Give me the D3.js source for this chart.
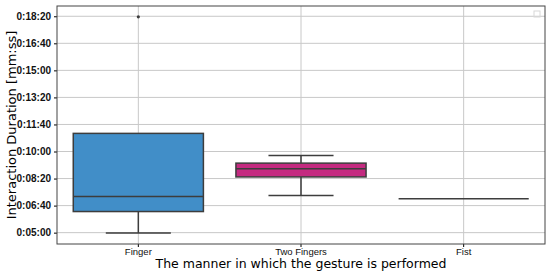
<!DOCTYPE html>
<html>
<head>
<meta charset="utf-8">
<script src="https://cdn.jsdelivr.net/npm/d3@7"></script>
<style>
  body { margin: 0; background: #fff; }
  svg { font-family: "DejaVu Sans", sans-serif; }
</style>
</head>
<body>
<div id="chart"></div>
<script>
// values in seconds
const categories = ["Finger", "Two Fingers", "Fist"]
const whiskerLow = [299, 437, 425]
const q1 = [378, 506, 425]
const median = [434, 536, 425]
const q3 = [667, 557, 425]
const whiskerHigh = [667, 585, 425]
const outliers = [[1098], [], []]
const boxColors = ["#418ec8", "#c42a80", "#418ec8"]
const yTicks = [300, 400, 500, 600, 700, 800, 900, 1000, 1100]

const margin = { top: 6, right: 5, bottom: 29, left: 57 }
const width = 550 - margin.left - margin.right
const height = 273 - margin.top - margin.bottom

const fmt = s => "0:" + String(Math.floor(s / 60)).padStart(2, "0") + ":" + String(s % 60).padStart(2, "0")

const svg = d3.select("#chart")
              .append("svg")
              .attr("width", 550)
              .attr("height", 273)

const g = svg.append("g")
             .attr("transform", "translate(" + margin.left + "," + margin.top + ")")

const x = d3.scaleBand()
            .domain(categories)
            .range([0, width])

const y = d3.scaleLinear()
            .domain([258, 1138])
            .range([height, 0])

// grid
g.append("g")
 .selectAll("line")
 .data(yTicks)
 .join("line")
 .attr("x1", 0).attr("x2", width)
 .attr("y1", d => y(d)).attr("y2", d => y(d))
 .attr("stroke", "#c8c8c8").attr("stroke-width", 1)

g.append("g")
 .selectAll("line")
 .data(categories)
 .join("line")
 .attr("x1", d => x(d) + x.bandwidth() / 2).attr("x2", d => x(d) + x.bandwidth() / 2)
 .attr("y1", 0).attr("y2", height)
 .attr("stroke", "#c8c8c8").attr("stroke-width", 1)

const boxW = x.bandwidth() * 0.8
const capW = x.bandwidth() * 0.4
const edge = "#3d3d3d"
const idx = d => categories.indexOf(d)

const boxes = g.append("g")
               .selectAll("g")
               .data(categories)
               .join("g")
               .attr("transform", d => "translate(" + (x(d) + x.bandwidth() / 2) + ",0)")

// whiskers
boxes.append("line")
     .attr("y1", d => y(whiskerLow[idx(d)])).attr("y2", d => y(q1[idx(d)]))
     .attr("stroke", edge).attr("stroke-width", 1.5)
boxes.append("line")
     .attr("y1", d => y(q3[idx(d)])).attr("y2", d => y(whiskerHigh[idx(d)]))
     .attr("stroke", edge).attr("stroke-width", 1.5)
boxes.filter(d => whiskerLow[idx(d)] < q1[idx(d)])
     .append("line")
     .attr("x1", -capW / 2).attr("x2", capW / 2)
     .attr("y1", d => y(whiskerLow[idx(d)])).attr("y2", d => y(whiskerLow[idx(d)]))
     .attr("stroke", edge).attr("stroke-width", 1.5)
boxes.filter(d => whiskerHigh[idx(d)] > q3[idx(d)])
     .append("line")
     .attr("x1", -capW / 2).attr("x2", capW / 2)
     .attr("y1", d => y(whiskerHigh[idx(d)])).attr("y2", d => y(whiskerHigh[idx(d)]))
     .attr("stroke", edge).attr("stroke-width", 1.5)

// box
boxes.append("rect")
     .attr("x", -boxW / 2)
     .attr("width", boxW)
     .attr("y", d => y(q3[idx(d)]))
     .attr("height", d => y(q1[idx(d)]) - y(q3[idx(d)]))
     .attr("fill", d => boxColors[idx(d)])
     .attr("stroke", edge).attr("stroke-width", 1.5)

// median
boxes.append("line")
     .attr("x1", -boxW / 2).attr("x2", boxW / 2)
     .attr("y1", d => y(median[idx(d)])).attr("y2", d => y(median[idx(d)]))
     .attr("stroke", edge).attr("stroke-width", 1.5)

// outliers
boxes.each(function (d, i) {
    d3.select(this).selectAll("circle")
      .data(outliers[i])
      .join("circle")
      .attr("cy", v => y(v))
      .attr("r", 1.6)
      .attr("fill", edge)
})

// axes
g.append("g")
 .attr("transform", "translate(0," + height + ")")
 .call(d3.axisBottom(x).tickSize(3).tickPadding(1))
 .call(a => a.select(".domain").remove())
 .selectAll("text")
 .attr("font-size", 9.5).attr("fill", "#111")

g.append("g")
 .call(d3.axisLeft(y).tickValues(yTicks).tickFormat(fmt).tickSize(3).tickPadding(3))
 .call(a => a.select(".domain").remove())
 .selectAll("text")
 .attr("font-size", 10).attr("font-weight", 600).attr("fill", "#111")

g.append("rect")
 .attr("width", width).attr("height", height)
 .attr("fill", "none").attr("stroke", "#444").attr("stroke-width", 1)

// empty legend
g.append("rect")
 .attr("x", width - 11).attr("y", 5)
 .attr("width", 6).attr("height", 6)
 .attr("fill", "none").attr("stroke", "#d8d8d8")

svg.append("text")
   .attr("x", margin.left + width / 2).attr("y", 268)
   .attr("text-anchor", "middle")
   .attr("font-size", 12.5)
   .text("The manner in which the gesture is performed")

svg.append("text")
   .attr("transform", "translate(16," + (margin.top + height / 2) + ") rotate(-90)")
   .attr("text-anchor", "middle")
   .attr("font-size", 13)
   .text("Interaction Duration [mm:ss]")
</script>
</body>
</html>
